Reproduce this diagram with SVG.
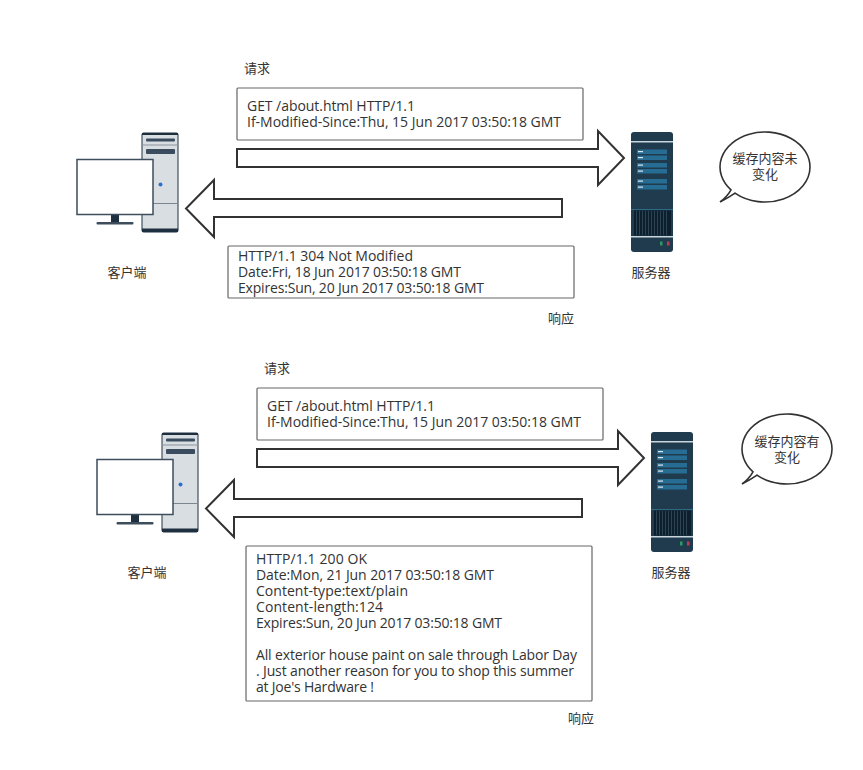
<svg xmlns="http://www.w3.org/2000/svg" width="863" height="770" viewBox="0 0 863 770">
<style>
text{font-family:"Open Sans","Noto Sans","Noto Sans CJK SC",sans-serif;font-size:13px;fill:#333}
.m{font-size:14px}
.c{text-anchor:middle}
.box{fill:#fff;stroke:#666;stroke-width:1.2}
.arrow{fill:#fff;stroke:#323232;stroke-width:2}
.bubble{fill:#fff;stroke:#323232;stroke-width:1.6}
</style>
<defs>
<g id="client-icon">
<rect x="142" y="133" width="36" height="99" rx="1.5" fill="#d9dee3" stroke="#1e3040" stroke-width="1"/>
<rect x="142" y="133" width="36" height="2" fill="#1e3040"/>
<rect x="142" y="228.500" width="36" height="3.500" fill="#1e3040"/>
<rect x="146" y="138.500" width="29" height="3" rx="1" fill="#3a4c5e"/>
<line x1="142" y1="145" x2="178" y2="145" stroke="#8a949c"/>
<rect x="146" y="149" width="29" height="5" rx="1" fill="#3a4c5e"/>
<circle cx="160.500" cy="184.500" r="2" fill="#2a6fd0"/>
<line x1="142" y1="203.500" x2="178" y2="203.500" stroke="#7d8790"/>
<rect x="111" y="214" width="8" height="8" fill="#1e3040"/>
<rect x="96.500" y="222" width="37" height="2.500" rx="1" fill="#3d4d5c"/>
<rect x="77" y="159.500" width="76" height="55" fill="#fff" stroke="#3d4d5c" stroke-width="1.500"/>
</g>
<g id="server-icon">
<rect x="631" y="132" width="42" height="120" rx="3" fill="#1f3b4d"/>
<rect x="631" y="141" width="42" height="1.500" fill="#c9d6dd"/>
<rect x="631" y="236" width="42" height="1.500" fill="#c9d6dd"/>
<rect x="631" y="209" width="42" height="1" fill="#2f6a85"/>
<rect x="637" y="149.500" width="30" height="4.500" fill="#266c93"/>
<rect x="637" y="155.500" width="30" height="4.500" fill="#266c93"/>
<rect x="637" y="163" width="30" height="4.500" fill="#266c93"/>
<rect x="637" y="169" width="30" height="4.500" fill="#266c93"/>
<rect x="637" y="179" width="30" height="4.500" fill="#266c93"/>
<rect x="637" y="185" width="30" height="4.500" fill="#266c93"/>
<g fill="#dfe8ee">
<rect x="638" y="151" width="5" height="1.200"/><rect x="638" y="157" width="5" height="1.200"/>
<rect x="638" y="164.500" width="5" height="1.200"/><rect x="638" y="170.500" width="5" height="1.200"/>
<rect x="638" y="180.500" width="5" height="1.200"/><rect x="638" y="186.500" width="5" height="1.200"/>
</g>
<rect x="634" y="210.500" width="37" height="25" fill="#0d1f2d"/>
<path d="M636.500 211v24M639.500 211v24M642.500 211v24M645.500 211v24M648.500 211v24M651.500 211v24M654.500 211v24M657.500 211v24M660.500 211v24M663.500 211v24M666.500 211v24" stroke="#2b4557" stroke-width="1" fill="none"/>
<rect x="660" y="241.500" width="2.500" height="4" fill="#2d9a63"/>
<rect x="667" y="241.500" width="2.500" height="4" fill="#c23b54"/>
</g>
</defs>

<g id="connectors">
<path class="arrow" d="M237 149H598V131L624 158L598 185V167H237Z"/>
<path class="arrow" d="M562 199H214V180L186 208.500L214 237V217H562Z"/>
<path class="arrow" d="M257 449H618V431L644 458L618 485V467H257Z"/>
<path class="arrow" d="M582 499H234V480L206 508.500L234 537V517H582Z"/>
</g>

<g id="client-1"><use href="#client-icon"/><text class="c" x="127" y="277">客户端</text></g>
<g id="server-1"><use href="#server-icon"/><text class="c" x="651" y="277">服务器</text></g>
<g id="label-req-1"><text x="244" y="73">请求</text></g>
<g id="request-1">
<rect class="box" x="237" y="88" width="346" height="52" rx="1"/>
<text class="m" x="247" y="111" textLength="168">GET /about.html HTTP/1.1</text>
<text class="m" x="247" y="127" textLength="314">If-Modified-Since:Thu, 15 Jun 2017 03:50:18 GMT</text>
</g>
<g id="response-1">
<rect class="box" x="228" y="246" width="346" height="52" rx="1"/>
<text class="m" x="238" y="261" textLength="175">HTTP/1.1 304 Not Modified</text>
<text class="m" x="238" y="277" textLength="223">Date:Fri, 18 Jun 2017 03:50:18 GMT</text>
<text class="m" x="238" y="293" textLength="246">Expires:Sun, 20 Jun 2017 03:50:18 GMT</text>
</g>
<g id="label-resp-1"><text x="548" y="323">响应</text></g>
<g id="bubble-1">
<path class="bubble" d="M720 202Q727 197 731 189.900A45 35 0 1 1 810 167A45 35 0 0 1 735 193.100Q728 198 720 202Z"/>
<text class="c" x="765" y="163">缓存内容未</text>
<text class="c" x="765" y="179">变化</text>
</g>

<g id="client-2"><use href="#client-icon" x="20" y="300"/><text class="c" x="147" y="577">客户端</text></g>
<g id="server-2"><use href="#server-icon" x="20" y="300"/><text class="c" x="671" y="577">服务器</text></g>
<g id="label-req-2"><text x="264" y="373">请求</text></g>
<g id="request-2">
<rect class="box" x="257" y="388" width="346" height="52" rx="1"/>
<text class="m" x="267" y="411" textLength="168">GET /about.html HTTP/1.1</text>
<text class="m" x="267" y="427" textLength="314">If-Modified-Since:Thu, 15 Jun 2017 03:50:18 GMT</text>
</g>
<g id="response-2">
<rect class="box" x="246" y="546" width="346" height="155" rx="1"/>
<text class="m" x="256" y="564" textLength="111">HTTP/1.1 200 OK</text>
<text class="m" x="256" y="580" textLength="238">Date:Mon, 21 Jun 2017 03:50:18 GMT</text>
<text class="m" x="256" y="596" textLength="152">Content-type:text/plain</text>
<text class="m" x="256" y="612" textLength="127">Content-length:124</text>
<text class="m" x="256" y="628" textLength="246">Expires:Sun, 20 Jun 2017 03:50:18 GMT</text>
<text class="m" x="256" y="660" textLength="321">All exterior house paint on sale through Labor Day</text>
<text class="m" x="256" y="676" textLength="318">. Just another reason for you to shop this summer</text>
<text class="m" x="256" y="692" textLength="118">at Joe's Hardware !</text>
</g>
<g id="label-resp-2"><text x="568" y="723">响应</text></g>
<g id="bubble-2">
<path class="bubble" d="M742 484Q749 479 753 471.900A45 35 0 1 1 832 449A45 35 0 0 1 757 475.100Q750 480 742 484Z"/>
<text class="c" x="787" y="446">缓存内容有</text>
<text class="c" x="787" y="462">变化</text>
</g>
</svg>
